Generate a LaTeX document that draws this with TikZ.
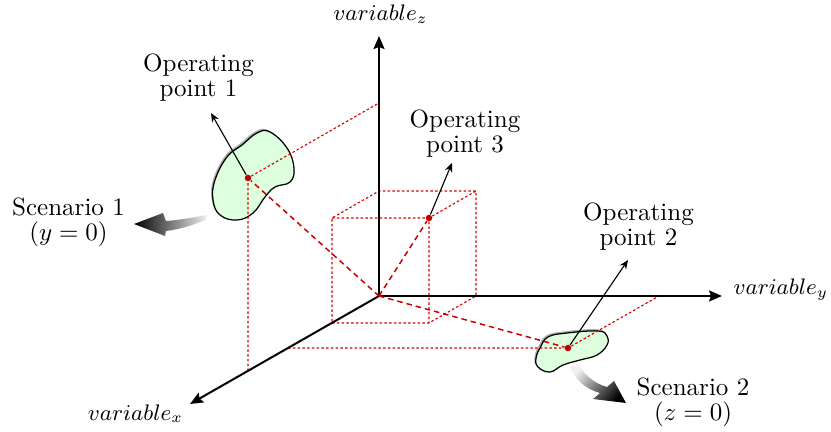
\documentclass[tikz,border=0pt]{standalone}
\usepackage{amsmath}
\usetikzlibrary{arrows.meta,shadows}
\tikzset{
  figaxis/.style={-{Stealth[length=5.2pt,width=4.4pt,inset=0.8pt]}, line width=0.8pt},
  figproj/.style={red!85!black, line width=0.45pt, dash pattern=on 1pt off 0.9pt},
  figray/.style={red!80!black, line width=0.6pt, dash pattern=on 2.2pt off 1.6pt},
  figpoint/.style={circle, fill=red!75!black, inner sep=0pt, minimum size=2.6pt},
  figarrow/.style={-{Stealth[length=3.6pt,width=3pt]}, line width=0.45pt},
  figlabel/.style={align=center, font=\fontsize{10}{10}\selectfont, inner sep=0pt},
  figaxlabel/.style={font=\small, inner sep=0pt},
  figregion/.style={draw, line width=0.5pt, fill=green!13,
    drop shadow={shadow xshift=-0.6pt, shadow yshift=0.7pt, fill=black!45, opacity=0.7}},
}

\begin{document}
\begin{tikzpicture}[x=0.4pt, y=0.4pt]
  \useasboundingbox (-379,-136) rectangle (452,296);
  % regions of the two scenarios
  \path[figregion] plot[smooth cycle, tension=0.7] coordinates {(-122,163) (-109,164) (-92,148) (-85,128) (-89,114) (-104,109) (-114,99) (-126,83) (-142,76) (-159,81) (-166,96) (-164,116) (-152,139) (-137,151)};
  \path[figregion] plot[smooth cycle, tension=0.7] coordinates {(157,-62) (161,-52) (169,-41) (188,-37) (219,-35) (228,-40) (228,-49) (218,-59) (201,-64) (184,-69) (171,-76) (159,-71)};

  \coordinate (o) at (0,0);
  \coordinate (xend) at (-189,-108);
  \coordinate (yend) at (343,0);
  \coordinate (zend) at (0,260);
  \node[figpoint] (p1) at (-131,118) {};
  \node[figpoint] (p2) at (189,-52) {};
  \node[figpoint] (p3) at (50,78) {};

  % projections on the axes
  \coordinate (p1x) at (-131,-75);
  \coordinate (p1z) at (0,193);
  \coordinate (p2x) at (-91,-52);
  \coordinate (p2y) at (280,0);
  \draw[figproj] (p1x) -- (p1) -- (p1z);
  \draw[figproj] (p2x) -- (p2) -- (p2y);
  % box of point 3
  \coordinate (bx) at (-47,-27);
  \coordinate (by) at (97,0);
  \coordinate (bz) at (0,105);
  \coordinate (bxy) at (50,-27);
  \coordinate (bxz) at (-47,78);
  \coordinate (byz) at (97,105);
  \draw[figproj] (bx) -- (bxy) -- (by) -- (byz) -- (bz) -- (bxz) -- (bx);
  \draw[figproj] (bxz) -- (p3) -- (byz) (p3) -- (bxy);

  \draw[figaxis] (o) -- (zend);
  \draw[figaxis] (o) -- (yend);
  \draw[figaxis] (o) -- (xend);
  \node[figaxlabel, anchor=base] (lz) at (1.5,275) {$variable_z$};
  \node[figaxlabel, anchor=base west] (ly) at (354,1) {$variable_y$};
  \node[figaxlabel, anchor=base] (lx) at (-243.5,-124) {$variable_x$};

  \draw[figray] (o) -- (p1);
  \draw[figray] (o) -- (p2);
  \draw[figray] (o) -- (p3);

  \node[figlabel] (op1) at (-180.5,218) {Operating\\point 1};
  \node[figlabel] (op2) at (259.5,69.5) {Operating\\point 2};
  \node[figlabel] (op3) at (86,162.5) {Operating\\point 3};
  \coordinate (a1) at (-168,183);
  \coordinate (a2) at (249,36);
  \coordinate (a3) at (73,133);
  \draw[figarrow] (p1) -- (a1);
  \draw[figarrow] (p2) -- (a2);
  \draw[figarrow] (p3) -- (a3);

  \node[figlabel] (sc1) at (-310.5,74) {Scenario 1\\$(y=0)$};
  \node[figlabel] (sc2) at (314,-106) {Scenario 2\\$(z=0)$};
  \shade[left color=black, right color=black!6]
    (-172,81) .. controls (-188,78) and (-200,76) .. (-213,75) -- (-216,83) -- (-245,72)
    -- (-214,60) -- (-213,65) .. controls (-196,67) and (-184,72) .. (-173,76) -- cycle;
  \shade[top color=black!6, bottom color=black, shading angle=50]
    (200,-69) .. controls (205,-78) and (214,-87) .. (228,-91) -- (235,-85) -- (247,-107)
    -- (214,-103) -- (221,-97) .. controls (206,-93) and (196,-83) .. (191,-71) -- cycle;
\end{tikzpicture}
\end{document}
